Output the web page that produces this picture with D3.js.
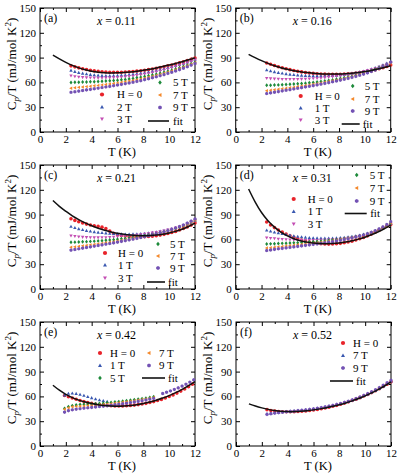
<!DOCTYPE html>
<html>
<head>
<meta charset="utf-8">
<script src="https://cdn.jsdelivr.net/npm/d3@7"></script>
<style>
body { margin:0; background:#fff; }
svg { display:block; }
</style>
</head>
<body>
<svg id="chart" width="399" height="475"></svg>
<script>
// temperature grids (K)
var tGrid = [2.4, 2.7, 3.0, 3.3, 3.6, 3.9, 4.2, 4.5, 4.8, 5.1, 5.4,
             5.7, 6.0, 6.3, 6.6, 6.9, 7.2, 7.5, 7.8, 8.1, 8.4, 8.7,
             9.0, 9.3, 9.6, 9.9, 10.2, 10.5, 10.8, 11.1, 11.4, 11.7, 12.0];
var tFit = [1, 1.5, 2, 2.5, 3, 3.5, 4, 4.5, 5, 5.5, 6, 6.5, 7, 7.5, 8, 8.5, 9, 9.5, 10, 10.5, 11, 11.5, 12];

// (a) x = 0.11
var a_H0 = [80.0, 78.8, 77.6, 76.6, 75.6, 74.6, 73.9, 73.3, 72.8, 72.5, 72.3,
            72.2, 72.2, 72.3, 72.5, 72.8, 73.2, 73.6, 74.1, 74.7, 75.4, 76.2,
            77.0, 77.9, 78.9, 80.0, 81.1, 82.3, 83.6, 84.9, 86.3, 87.8, 89.5];
var a_2T = [74.5, 73.0, 71.8, 70.9, 70.1, 69.4, 68.9, 68.5, 68.2, 68.1, 68.1,
            68.2, 68.4, 68.7, 69.0, 69.4, 69.9, 70.4, 71.0, 71.7, 72.5, 73.4,
            74.4, 75.4, 76.5, 77.7, 78.9, 80.2, 81.6, 83.0, 84.5, 86.1, 87.8];
var a_3T = [68.0, 67.2, 66.6, 66.1, 65.8, 65.6, 65.5, 65.4, 65.4, 65.5, 65.6,
            65.8, 66.0, 66.4, 66.8, 67.3, 67.8, 68.5, 69.2, 70.0, 70.8, 71.8,
            72.8, 73.9, 75.0, 76.3, 77.6, 79.0, 80.5, 82.0, 83.6, 85.3, 87.0];
var a_5T = [60.0, 60.1, 60.3, 60.4, 60.6, 60.7, 60.9, 61.1, 61.3, 61.6, 61.9,
            62.2, 62.6, 63.1, 63.6, 64.2, 64.8, 65.5, 66.3, 67.1, 68.0, 69.0,
            70.0, 71.1, 72.3, 73.5, 74.8, 76.2, 77.7, 79.2, 80.8, 82.5, 84.3];
var a_7T = [53.0, 53.5, 54.0, 54.4, 54.9, 55.4, 55.9, 56.4, 57.0, 57.5, 58.1,
            58.7, 59.4, 60.1, 60.8, 61.6, 62.4, 63.3, 64.2, 65.2, 66.2, 67.3,
            68.5, 69.7, 71.0, 72.4, 73.8, 75.3, 76.9, 78.5, 80.2, 82.0, 83.8];
var a_9T = [48.0, 48.7, 49.5, 50.2, 50.9, 51.6, 52.3, 53.0, 53.8, 54.5, 55.2,
            56.0, 56.8, 57.6, 58.4, 59.3, 60.2, 61.2, 62.2, 63.3, 64.4, 65.6,
            66.8, 68.1, 69.4, 70.8, 72.3, 73.8, 75.4, 77.1, 78.9, 80.8, 82.8];
var a_fit = [93.0, 88.5, 84.3, 80.6, 77.6, 75.3, 73.6, 72.4, 71.8, 71.5, 71.6, 72.0,
             72.7, 73.6, 74.7, 76.0, 77.5, 79.2, 81.0, 83.0, 85.1, 87.3, 89.7];

// (b) x = 0.16
var b_H0 = [83.5, 82.0, 80.5, 79.0, 77.7, 76.5, 75.4, 74.4, 73.5, 72.7, 72.0,
            71.4, 70.9, 70.5, 70.2, 70.0, 69.9, 69.8, 69.8, 69.9, 70.1, 70.4,
            70.8, 71.3, 71.9, 72.6, 73.4, 74.3, 75.3, 76.5, 77.8, 79.3, 81.0];
var b_1T = [75.0, 73.8, 72.7, 71.8, 71.0, 70.3, 69.7, 69.2, 68.8, 68.5, 68.2,
            68.0, 67.9, 67.8, 67.8, 67.9, 68.0, 68.2, 68.5, 68.9, 69.4, 70.0,
            70.7, 71.5, 72.4, 73.4, 74.6, 76.0, 77.6, 79.3, 81.1, 83.0, 85.0];
var b_3T = [65.0, 64.6, 64.3, 64.1, 63.9, 63.8, 63.8, 63.8, 63.9, 64.0, 64.2,
            64.4, 64.7, 65.0, 65.4, 65.8, 66.3, 66.8, 67.4, 68.0, 68.7, 69.5,
            70.3, 71.2, 72.2, 73.2, 74.4, 75.7, 77.1, 78.7, 80.4, 82.2, 84.2];
var b_5T = [56.5, 56.6, 56.8, 57.0, 57.2, 57.4, 57.7, 58.0, 58.3, 58.7, 59.1,
            59.5, 60.0, 60.5, 61.1, 61.7, 62.3, 63.0, 63.8, 64.6, 65.5, 66.4,
            67.4, 68.5, 69.7, 71.0, 72.5, 74.1, 75.8, 77.7, 79.7, 81.8, 84.0];
var b_7T = [50.0, 50.6, 51.2, 51.8, 52.4, 53.0, 53.6, 54.2, 54.9, 55.6, 56.3,
            57.0, 57.7, 58.5, 59.3, 60.1, 61.0, 61.9, 62.8, 63.8, 64.8, 65.9,
            67.0, 68.2, 69.4, 70.7, 72.1, 73.6, 75.2, 77.0, 79.0, 81.2, 83.5];
var b_9T = [46.5, 47.3, 48.1, 48.9, 49.7, 50.5, 51.3, 52.1, 52.9, 53.7, 54.5,
            55.3, 56.1, 57.0, 57.9, 58.8, 59.7, 60.7, 61.7, 62.7, 63.8, 64.9,
            66.1, 67.3, 68.6, 70.0, 71.5, 73.1, 74.9, 76.9, 79.1, 81.5, 84.5];
var b_fit = [94.0, 90.0, 86.3, 83.0, 80.2, 77.8, 75.8, 74.2, 72.9, 71.9, 71.1, 70.5,
             70.2, 70.1, 70.2, 70.6, 71.2, 72.0, 73.1, 74.5, 76.1, 78.0, 80.2];

// (c) x = 0.21
var c_H0 = [85.0, 83.0, 81.3, 79.8, 78.5, 77.4, 76.5, 75.7, 74.8, 73.0, 70.0,
            67.5, 65.8, 64.7, 64.0, 63.5, 63.2, 63.1, 63.1, 63.2, 63.5, 63.9,
            64.5, 65.2, 66.1, 67.1, 68.3, 69.7, 71.3, 73.1, 75.1, 77.3, 79.8];
var c_1T = [75.5, 74.0, 72.7, 71.6, 70.6, 69.8, 69.1, 68.5, 68.0, 67.6, 67.2,
            66.9, 66.6, 66.4, 66.3, 66.3, 66.4, 66.5, 66.8, 67.1, 67.6, 68.2,
            68.9, 69.7, 70.6, 71.6, 72.7, 74.0, 75.4, 76.9, 78.6, 80.4, 82.5];
var c_3T = [64.5, 63.8, 63.2, 62.8, 62.5, 62.3, 62.2, 62.2, 62.3, 62.4, 62.6,
            62.9, 63.2, 63.5, 63.9, 64.3, 64.8, 65.3, 65.9, 66.5, 67.2, 67.9,
            68.7, 69.6, 70.5, 71.6, 72.7, 74.0, 75.4, 76.9, 78.6, 80.4, 82.4];
var c_5T = [56.5, 56.7, 56.9, 57.1, 57.3, 57.6, 57.9, 58.2, 58.5, 58.9, 59.3,
            59.7, 60.2, 60.7, 61.2, 61.8, 62.4, 63.0, 63.7, 64.4, 65.2, 66.0,
            66.9, 67.9, 69.0, 70.1, 71.5, 73.0, 74.7, 76.6, 78.7, 81.0, 83.5];
var c_7T = [50.5, 51.0, 51.6, 52.2, 52.8, 53.4, 54.0, 54.6, 55.2, 55.9, 56.6,
            57.3, 58.0, 58.7, 59.5, 60.3, 61.1, 61.9, 62.8, 63.7, 64.7, 65.7,
            66.8, 67.9, 69.1, 70.4, 71.8, 73.3, 74.9, 76.7, 78.7, 80.9, 83.3];
var c_9T = [47.0, 47.8, 48.6, 49.4, 50.2, 51.0, 51.8, 52.6, 53.4, 54.2, 55.0,
            55.8, 56.7, 57.6, 58.5, 59.4, 60.3, 61.3, 62.3, 63.3, 64.4, 65.5,
            66.7, 67.9, 69.2, 70.6, 72.1, 73.7, 75.5, 77.5, 79.7, 82.1, 84.7];
var c_fit = [107.0, 100.0, 94.0, 88.5, 84.0, 80.0, 76.5, 73.5, 71.0, 69.0, 67.4, 66.1,
             65.2, 64.6, 64.4, 64.6, 65.2, 66.2, 67.7, 69.7, 72.3, 75.6, 79.6];

// (d) x = 0.31
var d_H0 = [81.0, 77.5, 74.3, 71.4, 68.8, 66.5, 64.4, 62.5, 60.8, 59.3, 58.0,
            56.9, 55.9, 55.2, 54.7, 54.4, 54.3, 54.4, 54.7, 55.2, 55.9, 56.8,
            57.9, 59.2, 60.7, 62.4, 64.3, 66.4, 68.7, 71.2, 73.8, 76.0, 78.0];
var d_1T = [71.0, 69.8, 68.7, 67.7, 66.7, 65.8, 65.0, 64.2, 63.5, 62.9, 62.4,
            62.0, 61.7, 61.5, 61.4, 61.3, 61.3, 61.4, 61.6, 61.9, 62.3, 62.8,
            63.4, 64.2, 65.1, 66.1, 67.3, 68.7, 70.3, 72.1, 74.1, 76.4, 79.0];
var d_3T = [62.0, 61.5, 61.0, 60.6, 60.2, 59.9, 59.6, 59.4, 59.2, 59.1, 59.0,
            59.0, 59.0, 59.1, 59.2, 59.4, 59.6, 59.9, 60.2, 60.6, 61.1, 61.7,
            62.4, 63.2, 64.1, 65.1, 66.3, 67.7, 69.3, 71.1, 73.2, 75.6, 78.5];
var d_5T = [54.5, 54.6, 54.8, 55.0, 55.2, 55.4, 55.6, 55.8, 56.0, 56.3, 56.6,
            56.9, 57.2, 57.5, 57.9, 58.3, 58.7, 59.2, 59.7, 60.2, 60.8, 61.4,
            62.2, 63.2, 64.2, 65.3, 66.6, 68.1, 69.8, 71.8, 74.0, 76.5, 79.5];
var d_7T = [49.5, 50.0, 50.5, 51.0, 51.5, 52.0, 52.5, 53.0, 53.5, 54.0, 54.5,
            55.0, 55.5, 56.0, 56.6, 57.2, 57.8, 58.4, 59.1, 59.8, 60.5, 61.3,
            62.1, 63.0, 64.0, 65.1, 66.4, 67.9, 69.6, 71.6, 73.9, 76.6, 80.0];
var d_9T = [46.5, 47.2, 47.9, 48.6, 49.2, 49.8, 50.4, 51.0, 51.6, 52.2, 52.8,
            53.4, 54.0, 54.6, 55.3, 56.0, 56.7, 57.4, 58.2, 59.0, 59.9, 60.8,
            61.8, 62.9, 64.1, 65.4, 66.9, 68.6, 70.5, 72.7, 75.2, 78.0, 81.5];
var d_fit = [121.0, 105.5, 92.5, 82.5, 74.8, 68.8, 64.2, 60.8, 58.4, 56.7, 55.6, 55.0,
             54.8, 55.0, 55.7, 56.8, 58.3, 60.3, 62.7, 65.6, 69.0, 72.9, 77.3];

// (e) x = 0.42, field runs cover different ranges
var tE = [1.9, 2.2, 2.5, 2.8, 3.1, 3.4, 3.7, 4.0, 4.3, 4.6, 4.9, 5.2, 5.5, 5.8, 6.1, 6.4, 6.7,
          7.0, 7.3, 7.6, 7.9, 8.2, 8.5, 8.8, 9.1, 9.4, 9.7, 10.0, 10.3, 10.6, 10.9, 11.2, 11.5, 11.8];
var tE1 = [1.9, 2.2, 2.5, 2.8, 3.1, 3.4, 3.7, 4.0, 4.3, 4.6, 4.9, 5.2];
var tELow = [1.9, 2.2, 2.5, 2.8, 3.1, 3.4, 3.7, 4.0, 4.3, 4.6, 4.9, 5.2,
             5.5, 5.8, 6.1, 6.4, 6.7, 7.0, 7.3, 7.6, 7.9, 8.2, 8.5, 8.8];
var tE9 = [1.9, 2.2, 2.5, 2.8, 3.1, 3.4, 3.7, 4.0, 4.3, 4.6, 4.9, 5.2,
           5.5, 5.8, 6.1, 6.4, 6.7, 7.0, 7.3, 7.6, 7.9, 8.2, 8.5, 8.8,
           9.5, 9.8, 10.1, 10.4, 10.7, 11.0, 11.3, 11.6, 11.9];
var e_H0 = [61.0, 59.5, 58.0, 56.5, 55.0, 53.7, 52.6, 51.6, 50.7, 50.0, 49.4, 49.0,
            48.7, 48.5, 48.4, 48.5, 48.7, 49.0, 49.5, 50.1, 50.8, 51.6, 52.6, 53.7,
            55.0, 56.4, 58.0, 59.8, 61.8, 64.0, 66.4, 69.0, 71.8, 74.8];
var e_1T = [61.5, 63.5, 63.8, 63.3, 62.3, 61.0, 59.6, 58.2, 56.9, 55.7, 54.6, 53.7];
var e_5T = [45.5, 47.5, 48.8, 49.6, 50.1, 50.4, 50.6, 50.8, 51.0, 51.3, 51.7, 52.2,
            52.7, 53.2, 53.7, 54.2, 54.7, 55.3, 55.9, 56.5, 57.2, 57.9, 58.7, 59.5];
var e_7T = [44.5, 46.3, 47.4, 47.9, 48.2, 48.5, 48.8, 49.1, 49.4, 49.8, 50.2, 50.7,
            51.2, 51.7, 52.3, 52.9, 53.5, 54.1, 54.8, 55.5, 56.2, 57.0, 57.8, 58.7];
var e_9T = [41.0, 42.8, 43.8, 44.5, 45.1, 45.7, 46.2, 46.7, 47.2, 47.7, 48.2, 48.7,
            49.3, 49.9, 50.5, 51.1, 51.8, 52.5, 53.2, 54.0, 54.8, 55.7, 56.6, 57.5,
            63.5, 65.0, 66.6, 68.4, 70.3, 72.4, 74.7, 77.2, 80.0];
var e_fit = [73.5, 67.5, 62.5, 58.5, 55.5, 53.2, 51.4, 50.0, 49.0, 48.4, 48.2, 48.4,
             49.0, 50.0, 51.4, 53.2, 55.4, 58.0, 61.0, 64.5, 68.5, 73.0, 78.0];

// (f) x = 0.52
var f_H0 = [44.0, 43.0, 42.3, 41.8, 41.5, 41.4, 41.4, 41.5, 41.7, 42.0, 42.4,
            42.9, 43.5, 44.2, 45.0, 45.9, 46.9, 48.0, 49.2, 50.5, 51.9, 53.4,
            55.0, 56.7, 58.5, 60.4, 62.4, 64.6, 66.9, 69.4, 72.0, 74.8, 77.8];
var f_7T = [39.0, 39.6, 40.2, 40.7, 41.2, 41.6, 42.0, 42.4, 42.8, 43.2, 43.7,
            44.2, 44.8, 45.5, 46.2, 47.0, 47.9, 48.9, 50.0, 51.2, 52.5, 53.9,
            55.4, 57.0, 58.8, 60.7, 62.7, 64.9, 67.2, 69.7, 72.4, 75.3, 78.4];
var f_9T = [38.3, 39.0, 39.7, 40.3, 40.9, 41.4, 41.9, 42.3, 42.8, 43.3, 43.8,
            44.4, 45.0, 45.7, 46.5, 47.3, 48.2, 49.2, 50.3, 51.5, 52.8, 54.2,
            55.8, 57.5, 59.3, 61.3, 63.4, 65.7, 68.1, 70.7, 73.5, 76.5, 79.5];
var f_fit = [51.0, 48.3, 46.1, 44.3, 42.9, 42.0, 41.6, 41.6, 42.0, 42.7, 43.7, 44.9,
             46.3, 48.0, 49.9, 52.1, 54.6, 57.4, 60.6, 64.2, 68.2, 72.6, 77.5];

var xMajor = [0, 2, 4, 6, 8, 10, 12], xMinor = [1, 3, 5, 7, 9, 11];
var yMajor = [0, 30, 60, 90, 120, 150], yMinor = [15, 45, 75, 105, 135];

var col = {H0:'#e8232a', T1:'#3a58b0', T3:'#c34db3', T5:'#1d8a3a', T7:'#f4882a', T9:'#7352b4'};
var FONT = 'Liberation Serif, serif';

var pw = 155, ph = 124;

// legend spots are [marker x, row y, text x] relative to the plot box
var panels = [
  {tag:'(a)', xv:'0.11', left:40, top:8, fit:a_fit,
   series:[
     {lab:'H = 0', t:tGrid, v:a_H0, sym:'circle', c:col.H0, leg:[62, 86.5, 77]},
     {lab:'2 T', t:tGrid, v:a_2T, sym:'up', c:col.T1, leg:[62, 99, 77]},
     {lab:'3 T', t:tGrid, v:a_3T, sym:'down', c:col.T3, leg:[62, 111, 77]},
     {lab:'5 T', t:tGrid, v:a_5T, sym:'diamond', c:col.T5, leg:[120, 74.5, 133]},
     {lab:'7 T', t:tGrid, v:a_7T, sym:'left', c:col.T7, leg:[120, 87, 133]},
     {lab:'9 T', t:tGrid, v:a_9T, sym:'hex', c:col.T9, leg:[120, 99.5, 133]}],
   fitLeg:[108, 129, 113, 133]},
  {tag:'(b)', xv:'0.16', left:235.7, top:8, fit:b_fit,
   series:[
     {lab:'H = 0', t:tGrid, v:b_H0, sym:'circle', c:col.H0, leg:[65, 88, 79]},
     {lab:'1 T', t:tGrid, v:b_1T, sym:'up', c:col.T1, leg:[65, 100, 79]},
     {lab:'3 T', t:tGrid, v:b_3T, sym:'down', c:col.T3, leg:[65, 112, 79]},
     {lab:'5 T', t:tGrid, v:b_5T, sym:'diamond', c:col.T5, leg:[117, 78, 129]},
     {lab:'7 T', t:tGrid, v:b_7T, sym:'left', c:col.T7, leg:[117, 91, 129]},
     {lab:'9 T', t:tGrid, v:b_9T, sym:'hex', c:col.T9, leg:[117, 103, 129]}],
   fitLeg:[106, 124, 116, 127]},
  {tag:'(c)', xv:'0.21', left:40, top:165, fit:c_fit,
   series:[
     {lab:'H = 0', t:tGrid, v:c_H0, sym:'circle', c:col.H0, leg:[65, 88, 78]},
     {lab:'1 T', t:tGrid, v:c_1T, sym:'up', c:col.T1, leg:[65, 100, 78]},
     {lab:'3 T', t:tGrid, v:c_3T, sym:'down', c:col.T3, leg:[65, 113, 78]},
     {lab:'5 T', t:tGrid, v:c_5T, sym:'diamond', c:col.T5, leg:[118, 79, 130]},
     {lab:'7 T', t:tGrid, v:c_7T, sym:'left', c:col.T7, leg:[118, 91, 130]},
     {lab:'9 T', t:tGrid, v:c_9T, sym:'hex', c:col.T9, leg:[118, 103, 130]}],
   fitLeg:[107, 125, 117, 128]},
  {tag:'(d)', xv:'0.31', left:235.7, top:165, fit:d_fit,
   series:[
     {lab:'H = 0', t:tGrid, v:d_H0, sym:'circle', c:col.H0, leg:[58, 34, 72]},
     {lab:'1 T', t:tGrid, v:d_1T, sym:'up', c:col.T1, leg:[58, 46.5, 72]},
     {lab:'3 T', t:tGrid, v:d_3T, sym:'down', c:col.T3, leg:[58, 59, 72]},
     {lab:'5 T', t:tGrid, v:d_5T, sym:'diamond', c:col.T5, leg:[121, 10, 134]},
     {lab:'7 T', t:tGrid, v:d_7T, sym:'left', c:col.T7, leg:[121, 23, 134]},
     {lab:'9 T', t:tGrid, v:d_9T, sym:'hex', c:col.T9, leg:[121, 36, 134]}],
   fitLeg:[109, 131, 48.5, 134.5]},
  {tag:'(e)', xv:'0.42', left:40, top:322, fit:e_fit,
   series:[
     {lab:'H = 0', t:tE, v:e_H0, sym:'circle', c:col.H0, leg:[60, 31, 70]},
     {lab:'1 T', t:tE1, v:e_1T, sym:'up', c:col.T1, leg:[60, 43.5, 70]},
     {lab:'5 T', t:tELow, v:e_5T, sym:'diamond', c:col.T5, leg:[60, 56, 70]},
     {lab:'7 T', t:tELow, v:e_7T, sym:'left', c:col.T7, leg:[109, 31, 119]},
     {lab:'9 T', t:tE9, v:e_9T, sym:'hex', c:col.T9, leg:[109, 43.5, 119]}],
   fitLeg:[102, 125, 56, 128]},
  {tag:'(f)', xv:'0.52', left:236, top:322, fit:f_fit,
   series:[
     {lab:'H = 0', t:tGrid, v:f_H0, sym:'circle', c:col.H0, leg:[107, 21, 117]},
     {lab:'7 T', t:tGrid, v:f_7T, sym:'up', c:col.T1, leg:[107, 33.5, 117]},
     {lab:'9 T', t:tGrid, v:f_9T, sym:'hex', c:col.T9, leg:[107, 46, 117]}],
   fitLeg:[94, 117, 59, 120]}
];

function markerPath(kind, r) {
  if (kind == 'circle')
    return 'M' + r + ',0A' + r + ',' + r + ' 0 1,1 ' + (-r) + ',0A' + r + ',' + r + ' 0 1,1 ' + r + ',0Z';
  if (kind == 'up')
    return 'M0,' + (-r) + 'L' + (r * 0.95) + ',' + (r * 0.7) + 'L' + (-r * 0.95) + ',' + (r * 0.7) + 'Z';
  if (kind == 'down')
    return 'M0,' + r + 'L' + (r * 0.95) + ',' + (-r * 0.7) + 'L' + (-r * 0.95) + ',' + (-r * 0.7) + 'Z';
  if (kind == 'left')
    return 'M' + (-r) + ',0L' + (r * 0.7) + ',' + (-r * 0.95) + 'L' + (r * 0.7) + ',' + (r * 0.95) + 'Z';
  if (kind == 'diamond')
    return 'M0,' + (-r * 1.1) + 'L' + (r * 0.85) + ',0L0,' + (r * 1.1) + 'L' + (-r * 0.85) + ',0Z';
  // hexagon
  var pts = [];
  for (var k = 0; k < 6; k++) {
    var a = Math.PI / 3 * k + Math.PI / 6;
    pts.push([r * Math.cos(a), r * Math.sin(a)]);
  }
  return 'M' + pts.join('L') + 'Z';
}

var svg = d3.select('#chart');

function styleAxis(sel) {
  sel.attr('font-family', FONT).attr('font-size', 11);
  sel.select('.domain').remove();
}

panels.forEach(function(p) {
  var g = svg.append('g').attr('transform', 'translate(' + p.left + ',' + p.top + ')');
  var x = d3.scaleLinear().domain([0, 12]).range([0, pw]);
  var y = d3.scaleLinear().domain([0, 150]).range([ph, 0]);

  // inward ticks on all four sides
  g.append('g').attr('transform', 'translate(0,' + ph + ')')
    .call(d3.axisBottom(x).tickValues(xMajor).tickSize(-4).tickPadding(3)).call(styleAxis);
  g.append('g').attr('transform', 'translate(0,' + ph + ')')
    .call(d3.axisBottom(x).tickValues(xMinor).tickSize(-2).tickFormat('')).call(styleAxis);
  g.append('g').call(d3.axisTop(x).tickValues(xMajor).tickSize(-4).tickFormat('')).call(styleAxis);
  g.append('g').call(d3.axisTop(x).tickValues(xMinor).tickSize(-2).tickFormat('')).call(styleAxis);
  g.append('g').call(d3.axisLeft(y).tickValues(yMajor).tickSize(-4).tickPadding(4)).call(styleAxis);
  g.append('g').call(d3.axisLeft(y).tickValues(yMinor).tickSize(-2).tickFormat('')).call(styleAxis);
  g.append('g').attr('transform', 'translate(' + pw + ',0)')
    .call(d3.axisRight(y).tickValues(yMajor).tickSize(-4).tickFormat('')).call(styleAxis);
  g.append('g').attr('transform', 'translate(' + pw + ',0)')
    .call(d3.axisRight(y).tickValues(yMinor).tickSize(-2).tickFormat('')).call(styleAxis);

  g.append('rect').attr('width', pw).attr('height', ph)
    .attr('fill', 'none').attr('stroke', '#000').attr('stroke-width', 1);

  // data points
  p.series.forEach(function(s) {
    g.append('g').selectAll('path').data(d3.zip(s.t, s.v)).join('path')
      .attr('d', markerPath(s.sym, 1.8))
      .attr('transform', function(d) { return 'translate(' + x(d[0]) + ',' + y(d[1]) + ')'; })
      .attr('fill', s.c);
  });

  // fit curve
  var line = d3.line()
    .x(function(d) { return x(d[0]); })
    .y(function(d) { return y(d[1]); })
    .curve(d3.curveCatmullRom);
  g.append('path').datum(d3.zip(tFit, p.fit)).attr('d', line)
    .attr('fill', 'none').attr('stroke', '#111').attr('stroke-width', 1.5);

  // legend
  p.series.forEach(function(s) {
    g.append('path').attr('d', markerPath(s.sym, 2.1))
      .attr('transform', 'translate(' + s.leg[0] + ',' + s.leg[1] + ')')
      .attr('fill', s.c);
    g.append('text').attr('x', s.leg[2]).attr('y', s.leg[1]).attr('dy', '0.35em')
      .attr('font-family', FONT).attr('font-size', 11).text(s.lab);
  });
  g.append('line').attr('x1', p.fitLeg[0]).attr('x2', p.fitLeg[1])
    .attr('y1', p.fitLeg[2]).attr('y2', p.fitLeg[2])
    .attr('stroke', '#111').attr('stroke-width', 1.6);
  g.append('text').attr('x', p.fitLeg[3]).attr('y', p.fitLeg[2]).attr('dy', '0.35em')
    .attr('font-family', FONT).attr('font-size', 11).text('fit');

  // panel tag and composition
  g.append('text').attr('x', 4).attr('y', 14).attr('font-family', FONT).attr('font-size', 12).text(p.tag);
  var xt = g.append('text').attr('x', 57).attr('y', 16.5).attr('font-family', FONT).attr('font-size', 12);
  xt.append('tspan').attr('font-style', 'italic').text('x');
  xt.append('tspan').text(' = ' + p.xv);

  // axis titles
  g.append('text').attr('x', 82).attr('y', ph + 24).attr('text-anchor', 'middle')
    .attr('font-family', FONT).attr('font-size', 12.5).text('T (K)');
  var yt = g.append('text').attr('transform', 'translate(-24,56) rotate(-90)')
    .attr('text-anchor', 'middle').attr('font-family', FONT).attr('font-size', 13);
  yt.append('tspan').text('C');
  yt.append('tspan').attr('font-size', 9).attr('font-style', 'italic').attr('dy', 3).text('p');
  yt.append('tspan').attr('dy', -3).text('/T (mJ/mol K');
  yt.append('tspan').attr('font-size', 9).attr('dy', -5).text('2');
  yt.append('tspan').attr('dy', 5).text(')');
});
</script>
</body>
</html>
